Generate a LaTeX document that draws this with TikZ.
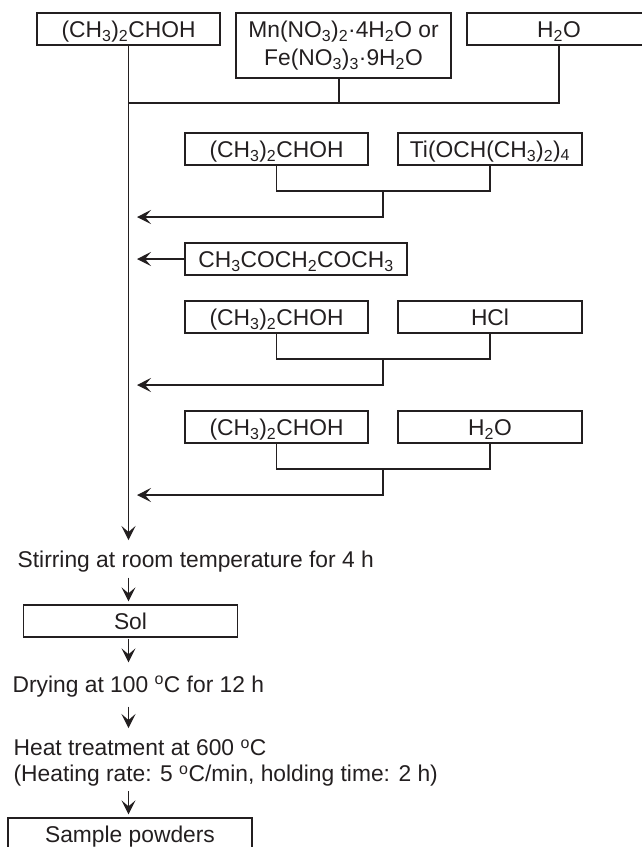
\documentclass[tikz,border=0pt]{standalone}
\usepackage{fontspec}
\setmainfont{Liberation Sans}
\usetikzlibrary{arrows.meta}
\definecolor{ink}{RGB}{35,31,32}

\begin{document}
\begin{tikzpicture}[x=1pt, y=-1pt, color=ink, line width=1.3pt,
  >={Stealth[length=14pt,width=14pt,inset=6pt]},
  every node/.style={font=\fontsize{22.8}{26}\selectfont},
  box/.style={draw, minimum height=32pt, inner sep=0pt, text height=16pt, text depth=0pt},
  lbl/.style={inner sep=0pt, anchor=west, text height=16pt, text depth=5pt}]
\useasboundingbox (0,0) rectangle (641,847);
\node[box, minimum width=183pt] (ipa1) at (128.5,29) {(CH\textsubscript{3})\textsubscript{2}CHOH};
\node[box, minimum width=215pt, minimum height=65pt, align=center, text height=, text depth=, font=\fontsize{22.8}{28}\selectfont] (salt) at (343.5,45.5) {Mn(NO\textsubscript{3})\textsubscript{2}·4H\textsubscript{2}O or\\Fe(NO\textsubscript{3})\textsubscript{3}·9H\textsubscript{2}O};
\node[box, minimum width=184pt] (wat1) at (559,29) {H\textsubscript{2}O};
\coordinate (j0) at (128.5,103);
\draw (ipa1.south) -- (j0) -| (wat1.south);
\draw ([xshift=-4.5pt]salt.south) -- ([xshift=-4.5pt]salt.south |- j0);
\node[box, minimum width=183pt] (ipa2) at (276.5,149) {(CH\textsubscript{3})\textsubscript{2}CHOH};
\node[box, minimum width=184pt] (tipr) at (490,149) {Ti(OCH(CH\textsubscript{3})\textsubscript{2})\textsubscript{4}};
\coordinate (j1) at (383,191);
\coordinate (m1) at (137,217);
\draw (ipa2.south) |- (j1) -| (tipr.south);
\draw[->] (j1) |- (m1);
\node[box, minimum width=222pt] (acac) at (296,259) {CH\textsubscript{3}COCH\textsubscript{2}COCH\textsubscript{3}};
\coordinate (m2) at (137,259);
\draw[->] (acac) -- (m2);
\node[box, minimum width=183pt] (ipa3) at (276.5,317) {(CH\textsubscript{3})\textsubscript{2}CHOH};
\node[box, minimum width=184pt] (hcl) at (490,317) {HCl};
\coordinate (j2) at (383,359);
\coordinate (m3) at (137,385);
\draw (ipa3.south) |- (j2) -| (hcl.south);
\draw[->] (j2) |- (m3);
\node[box, minimum width=183pt] (ipa4) at (276.5,427) {(CH\textsubscript{3})\textsubscript{2}CHOH};
\node[box, minimum width=184pt] (wat2) at (490,427) {H\textsubscript{2}O};
\coordinate (j3) at (383,469);
\coordinate (m4) at (137,495);
\draw (ipa4.south) |- (j3) -| (wat2.south);
\draw[->] (j3) |- (m4);
\coordinate (m5) at (128.5,540);
\draw[->] (j0) -- (m5);
\node[lbl] (stir) at (17,562) {Stirring at room temperature for 4 h};
\node[box, minimum width=214pt] (sol) at (130.5,621) {Sol};
\node[lbl] (dry) at (12,687) {Drying at 100 \textsuperscript{o}C for 12 h};
\node[inner sep=0pt, anchor=north west, align=left] (heat) at (13,739) {Heat treatment at 600 \textsuperscript{o}C\\(Heating rate: 5 \textsuperscript{o}C/min, holding time: 2 h)};
\node[box, minimum width=244pt] (smp) at (130,834) {Sample powders};
\draw[->, shorten <=4.5pt, shorten >=3pt] (j0 |- stir.south) -- (j0 |- sol.north);
\draw[->, shorten <=1pt, shorten >=13.5pt] (j0 |- sol.south) -- (j0 |- dry.north);
\draw[->, shorten <=8.5pt, shorten >=11pt] (j0 |- dry.south) -- (j0 |- heat.north);
\draw[->, shorten <=4pt, shorten >=3pt] (j0 |- heat.south) -- (j0 |- smp.north);
\end{tikzpicture}
\end{document}
